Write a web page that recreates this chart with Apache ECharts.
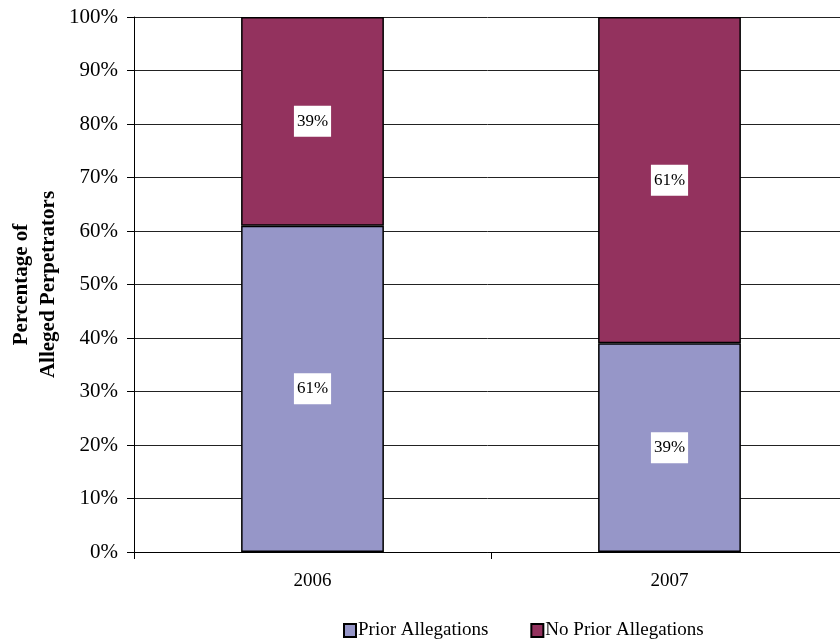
<!DOCTYPE html>
<html>
<head>
<meta charset="utf-8">
<script src="https://cdn.jsdelivr.net/npm/echarts@6/dist/echarts.min.js"></script>
<style>html,body{margin:0;padding:0;background:#fff}#c{width:840px;height:640px}</style>
</head>
<body>
<div id="c"></div>
<script>
const categories = ['2006', '2007'];
const priorAllegations = [61, 39];
const noPriorAllegations = [39, 61];
const seriesNames = ['Prior Allegations', 'No Prior Allegations'];

const chart = echarts.init(document.getElementById('c'));
const font = '"Liberation Serif", "DejaVu Serif", serif';
const labelStyle = {
  show: true,
  position: 'inside',
  formatter: p => p.value + '%',
  color: '#000',
  fontFamily: font,
  fontSize: 17,
  backgroundColor: '#fff',
  padding: [8, 3, 6, 3]
};
chart.setOption({
  animation: false,
  grid: { left: 134, right: -8, top: 17, bottom: 88, containLabel: false, outerBoundsMode: 'none' },
  legend: {
    top: 616,
    left: 338,
    itemGap: 42,
    itemWidth: 12,
    itemHeight: 13,
    icon: 'rect',
    textStyle: { fontFamily: font, fontSize: 19, color: '#000', padding: [0, 0, 0, -3] },
    data: seriesNames
  },
  xAxis: {
    type: 'category',
    data: categories,
    axisLine: { lineStyle: { color: '#000', width: 1 } },
    axisTick: { show: true, length: 7, lineStyle: { color: '#000' } },
    axisLabel: { fontFamily: font, fontSize: 19, color: '#000', margin: 20 },
    splitLine: { show: false }
  },
  yAxis: {
    type: 'value',
    min: 0, max: 100, interval: 10,
    name: 'Percentage of\nAlleged Perpetrators',
    nameLocation: 'middle',
    nameGap: 72,
    nameMoveOverlap: false,
    nameTextStyle: { fontFamily: font, fontSize: 21, fontWeight: 'bold', color: '#000', lineHeight: 27 },
    axisLine: { show: true, lineStyle: { color: '#000', width: 1 } },
    axisTick: { show: true, length: 7, lineStyle: { color: '#000' } },
    axisLabel: { fontFamily: font, fontSize: 21, color: '#000', margin: 16, formatter: '{value}%' },
    splitLine: { show: true, lineStyle: { color: '#222', width: 1 } }
  },
  series: [
    {
      name: seriesNames[0], type: 'bar', stack: 'a', data: priorAllegations,
      barWidth: '40%',
      itemStyle: { color: '#9696C8', borderColor: '#000', borderWidth: 1.5 },
      label: labelStyle
    },
    {
      name: seriesNames[1], type: 'bar', stack: 'a', data: noPriorAllegations,
      barWidth: '40%',
      itemStyle: { color: '#93325E', borderColor: '#000', borderWidth: 1.5 },
      label: labelStyle
    }
  ]
});
</script>
</body>
</html>
